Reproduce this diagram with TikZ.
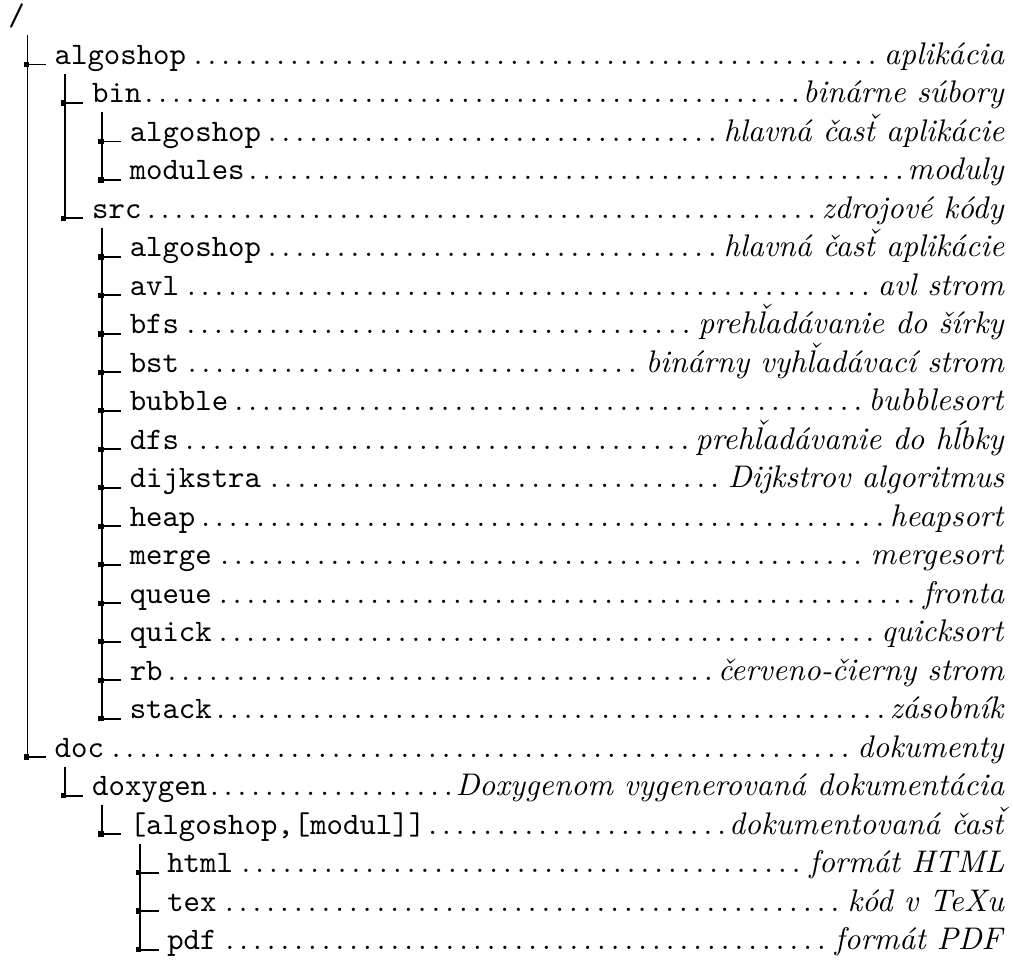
\documentclass[tikz,border=0pt]{standalone}
\usepackage{fontspec}
\newlength\rowwd
\setlength\rowwd{321.1pt}
% riadok stromu: odsadenie, meno, popis
\newcommand\entry[3]{\hbox to \dimexpr\rowwd-#1\relax{\hss\hbox to \rowwd{\hskip#1\texttt{#2}\dotfill\textit{#3}}}}
\newcommand\hacek[1]{{\accent"02C7 #1}}
\tikzset{
    item/.style={anchor=base west, inner sep=0pt},
    branch/.style={line width=0.6pt, shorten >=2.6pt},
    junction/.style={pos=0.5, fill, inner sep=0pt, minimum size=1.7pt, xshift=-0.4pt},
}

\begin{document}
\begin{tikzpicture}[x=1pt, y=-12.308pt]
			\useasboundingbox (0,-0.6757) rectangle (324,24.662);
			\node[item] (root) at (2.5,0) {\texttt{/}};
			\node[item] (alg) at (17.3,1) {\entry{17.3pt}{algoshop}{aplikácia}};
			\node[item] (bin) at (29.3,2) {\entry{29.3pt}{bin}{binárne súbory}};
			\node[item] (binalg) at (41.3,3) {\entry{41.3pt}{algoshop}{hlavná čas\hacek{t} aplikácie}};
			\node[item] (mods) at (41.3,4) {\entry{41.3pt}{modules}{moduly}};
			\node[item] (src) at (29.3,5) {\entry{29.3pt}{src}{zdrojové kódy}};
			\node[item] (srcalg) at (41.3,6) {\entry{41.3pt}{algoshop}{hlavná čas\hacek{t} aplikácie}};
			\node[item] (avl) at (41.3,7) {\entry{41.3pt}{avl}{avl strom}};
			\node[item] (bfs) at (41.3,8) {\entry{41.3pt}{bfs}{preh\hacek{l}adávanie do šírky}};
			\node[item] (bst) at (41.3,9) {\entry{41.3pt}{bst}{binárny vyh\hacek{l}adávací strom}};
			\node[item] (bubble) at (41.3,10) {\entry{41.3pt}{bubble}{bubblesort}};
			\node[item] (dfs) at (41.3,11) {\entry{41.3pt}{dfs}{preh\hacek{l}adávanie do hĺbky}};
			\node[item] (dijkstra) at (41.3,12) {\entry{41.3pt}{dijkstra}{Dijkstrov algoritmus}};
			\node[item] (heap) at (41.3,13) {\entry{41.3pt}{heap}{heapsort}};
			\node[item] (merge) at (41.3,14) {\entry{41.3pt}{merge}{mergesort}};
			\node[item] (queue) at (41.3,15) {\entry{41.3pt}{queue}{fronta}};
			\node[item] (quick) at (41.3,16) {\entry{41.3pt}{quick}{quicksort}};
			\node[item] (rb) at (41.3,17) {\entry{41.3pt}{rb}{červeno-čierny strom}};
			\node[item] (stack) at (41.3,18) {\entry{41.3pt}{stack}{zásobník}};
			\node[item] (doc) at (17.3,19) {\entry{17.3pt}{doc}{dokumenty}};
			\node[item] (doxygen) at (29.3,20) {\entry{29.3pt}{doxygen}{Doxygenom vygenerovaná dokumentácia}};
			\node[item] (modul) at (41.3,21) {\entry{41.3pt}{[algoshop,[modul]]}{dokumentovaná čas\hacek{t}}};
			\node[item] (html) at (53.3,22) {\entry{53.3pt}{html}{formát HTML}};
			\node[item] (tex) at (53.3,23) {\entry{53.3pt}{tex}{kód v TeXu}};
			\node[item] (pdf) at (53.3,24) {\entry{53.3pt}{pdf}{formát PDF}};
			% vetvy
			\foreach \c in {alg,doc}
				\draw[branch] ([shift={(6.3,0.24)}]root.base west) |- node[junction] (j-\c) {} (\c.base west);
			\foreach \c in {bin,src}
				\draw[branch] ([shift={(3.4,0.247)}]alg.base west) |- node[junction] (j-\c) {} (\c.base west);
			\foreach \c in {binalg,mods}
				\draw[branch] ([shift={(3.4,0.247)}]bin.base west) |- node[junction] (j-\c) {} (\c.base west);
			\foreach \c in {srcalg,avl,bfs,bst,bubble,dfs,dijkstra,heap,merge,queue,quick,rb,stack}
				\draw[branch] ([shift={(3.4,0.247)}]src.base west) |- node[junction] (j-\c) {} (\c.base west);
			\draw[branch] ([shift={(3.4,0.247)}]doc.base west) |- node[junction] (j-doxygen) {} (doxygen.base west);
			\draw[branch] ([shift={(3.4,0.247)}]doxygen.base west) |- node[junction] (j-modul) {} (modul.base west);
			\foreach \c in {html,tex,pdf}
				\draw[branch] ([shift={(3.4,0.247)}]modul.base west) |- node[junction] (j-\c) {} (\c.base west);
\end{tikzpicture}
\end{document}
